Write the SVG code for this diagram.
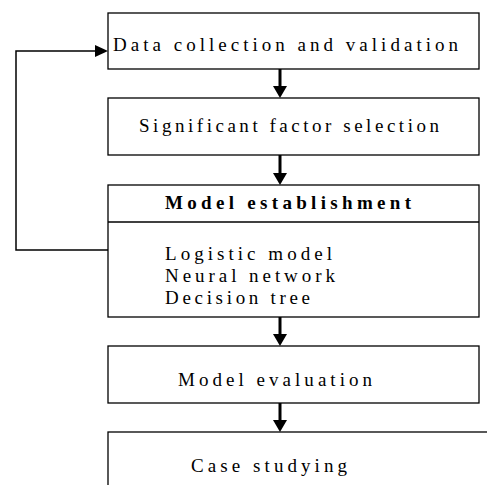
<svg xmlns="http://www.w3.org/2000/svg" width="487" height="485" viewBox="0 0 487 485">
<style>
.box{fill:#fff;stroke:#000;stroke-width:1.3}
.t{font-family:"Liberation Serif","Times New Roman",serif;font-size:19px;fill:#000}
.b{font-weight:bold}
.c{fill:none;stroke:#000}
.v{stroke-width:3}
.f{stroke-width:1.5}
.h{fill:#000;stroke:none}
</style>
<rect width="487" height="485" fill="#fff"/>
<g id="connectors">
<line class="c v" x1="280" y1="69" x2="280" y2="88"/>
<polygon class="h" points="273,86 287,86 280,98"/>
<line class="c v" x1="280" y1="155" x2="280" y2="175"/>
<polygon class="h" points="273,173 287,173 280,185"/>
<line class="c v" x1="280" y1="317" x2="280" y2="336"/>
<polygon class="h" points="273,334 287,334 280,346"/>
<line class="c v" x1="280" y1="403" x2="280" y2="422"/>
<polygon class="h" points="273,420 287,420 280,432"/>
<polyline class="c f" points="108,250 16,250 16,51 96,51"/>
<polygon class="h" points="95,45 95,57 108,51"/>
</g>
<g id="n1">
<rect class="box" x="108" y="13" width="371" height="56"/>
<text class="t" x="113" y="51" textLength="345" lengthAdjust="spacing">Data collection and validation</text>
</g>
<g id="n2">
<rect class="box" x="108" y="98" width="371" height="57"/>
<text class="t" x="139" y="132" textLength="300" lengthAdjust="spacing">Significant factor selection</text>
</g>
<g id="n3">
<rect class="box" x="108" y="185" width="371" height="132"/>
<line class="c" x1="108" y1="222" x2="479" y2="222" stroke-width="1.3"/>
<text class="t b" x="165" y="209" textLength="246" lengthAdjust="spacing">Model establishment</text>
<text class="t" x="165" y="260" textLength="167" lengthAdjust="spacing">Logistic model</text>
<text class="t" x="165" y="282" textLength="170" lengthAdjust="spacing">Neural network</text>
<text class="t" x="165" y="304" textLength="145" lengthAdjust="spacing">Decision tree</text>
</g>
<g id="n4">
<rect class="box" x="108" y="346" width="371" height="57"/>
<text class="t" x="178" y="386" textLength="194" lengthAdjust="spacing">Model evaluation</text>
</g>
<g id="n5">
<rect class="box" x="108" y="432" width="400" height="80"/>
<text class="t" x="191" y="472" textLength="156" lengthAdjust="spacing">Case studying</text>
</g>
</svg>
